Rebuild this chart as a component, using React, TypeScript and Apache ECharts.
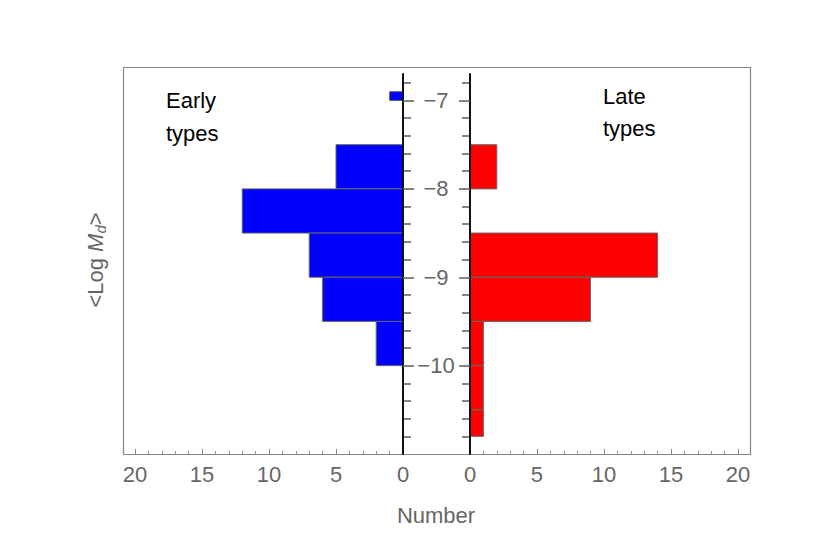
import React, { useEffect, useRef } from "react";
import * as echarts from "echarts";

// Early types histogram (left, blue): bin lower edge, upper edge, count
const earlyLow = [-7.0, -8.0, -8.5, -9.0, -9.5, -10.0];
const earlyHigh = [-6.9, -7.5, -8.0, -8.5, -9.0, -9.5];
const earlyCount = [1, 5, 12, 7, 6, 2];

// Late types histogram (right, red)
const lateLow = [-8.0, -9.0, -9.5, -10.0, -10.5, -10.8];
const lateHigh = [-7.5, -8.5, -9.0, -9.5, -10.0, -10.5];
const lateCount = [2, 14, 9, 1, 1, 1];

// Axis ticks
const yMajorTicks = [-10, -9, -8, -7];
const yMinorTicks = [
  -10.8, -10.6, -10.4, -10.2, -9.8, -9.6, -9.4, -9.2, -8.8, -8.6, -8.4, -8.2,
  -7.8, -7.6, -7.4, -7.2, -6.8,
];
const xMajorTicks = [0, 5, 10, 15, 20];
const xMinorTicks = [1, 2, 3, 4, 6, 7, 8, 9, 11, 12, 13, 14, 16, 17, 18, 19];

const Y_MIN = -11;
const Y_MAX = -6.7;
const X_MAX = 20.9;

const FONT = "'Liberation Sans', Arial, sans-serif";
const GREY = "#666666";
const FS = 22;

function fmt(v: number): string {
  return v < 0 ? "\u2212" + Math.abs(v) : String(v);
}

function makeRender(color: string) {
  return (params: any, api: any) => {
    const lo = api.value(0);
    const hi = api.value(1);
    const n = api.value(2);
    const p0 = api.coord([0, hi]);
    const p1 = api.coord([n, lo]);
    return {
      type: "rect",
      shape: {
        x: Math.min(p0[0], p1[0]),
        y: Math.min(p0[1], p1[1]),
        width: Math.abs(p1[0] - p0[0]),
        height: Math.abs(p1[1] - p0[1]),
      },
      style: { fill: color, stroke: GREY, lineWidth: 1 },
    };
  };
}

export default function App() {
  const ref = useRef<HTMLDivElement>(null);

  useEffect(() => {
    if (!ref.current) return;
    const chart = echarts.init(ref.current, undefined, { renderer: "svg" });

    const earlyData = earlyLow.map((lo, i) => [lo, earlyHigh[i], earlyCount[i]]);
    const lateData = lateLow.map((lo, i) => [lo, lateHigh[i], lateCount[i]]);

    const xBase = (gridIndex: number, inverse: boolean) => ({
      type: "value",
      gridIndex,
      min: 0,
      max: X_MAX,
      inverse,
      position: "bottom",
      axisLine: { show: false, onZero: false },
      splitLine: { show: false },
    });

    const xMajor = (gridIndex: number, inverse: boolean) => ({
      ...xBase(gridIndex, inverse),
      axisTick: {
        show: true,
        inside: true,
        length: 5,
        customValues: xMajorTicks,
        lineStyle: { color: "#888", width: 1 },
      },
      axisLabel: {
        show: true,
        customValues: xMajorTicks,
        fontSize: FS,
        fontFamily: FONT,
        color: GREY,
        margin: 9,
      },
    });

    const xMinor = (gridIndex: number, inverse: boolean) => ({
      ...xBase(gridIndex, inverse),
      axisTick: {
        show: true,
        inside: true,
        length: 3,
        customValues: xMinorTicks,
        lineStyle: { color: "#999", width: 1 },
      },
      axisLabel: { show: false },
    });

    const yMajor = (gridIndex: number, position: string, labels: boolean) => ({
      type: "value",
      gridIndex,
      min: Y_MIN,
      max: Y_MAX,
      position,
      axisLine: { show: true, onZero: false, lineStyle: { color: "#111", width: 2 } },
      axisTick: {
        show: true,
        inside: false,
        length: 11,
        customValues: yMajorTicks,
        lineStyle: { color: GREY, width: 1.6 },
      },
      axisLabel: {
        show: labels,
        customValues: yMajorTicks,
        formatter: fmt,
        fontSize: FS,
        fontFamily: FONT,
        color: GREY,
        align: "center",
        margin: 33,
      },
      splitLine: { show: false },
      z: 5,
    });

    const yMinor = (gridIndex: number, position: string) => ({
      type: "value",
      gridIndex,
      min: Y_MIN,
      max: Y_MAX,
      position,
      axisLine: { show: false, onZero: false },
      axisTick: {
        show: true,
        inside: false,
        length: 8,
        customValues: yMinorTicks,
        lineStyle: { color: GREY, width: 1.6 },
      },
      axisLabel: { show: false },
      splitLine: { show: false },
    });

    chart.setOption({
      animation: false,
      backgroundColor: "#ffffff",
      grid: [
        { left: 123, width: 280, top: 74, bottom: 89 },
        { left: 470, width: 280, top: 74, bottom: 89 },
      ],
      xAxis: [xMajor(0, true), xMinor(0, true), xMajor(1, false), xMinor(1, false)],
      yAxis: [
        yMajor(0, "right", true),
        yMinor(0, "right"),
        yMajor(1, "left", false),
        yMinor(1, "left"),
      ],
      series: [
        {
          type: "custom",
          name: "Early types",
          xAxisIndex: 0,
          yAxisIndex: 0,
          data: earlyData,
          encode: { x: 2, y: [0, 1] },
          renderItem: makeRender("#0000ff"),
          z: 2,
        },
        {
          type: "custom",
          name: "Late types",
          xAxisIndex: 2,
          yAxisIndex: 2,
          data: lateData,
          encode: { x: 2, y: [0, 1] },
          renderItem: makeRender("#ff0000"),
          z: 2,
        },
      ],
      graphic: [
        {
          type: "rect",
          shape: { x: 123.5, y: 67.5, width: 627, height: 387 },
          style: { fill: "none", stroke: "#888888", lineWidth: 1.2 },
          z: 1,
          silent: true,
        },
        {
          type: "text",
          x: 166,
          y: 116.5,
          style: {
            text: "Early\ntypes",
            font: `${FS}px ${FONT}`,
            fill: "#000",
            align: "left",
            verticalAlign: "middle",
            lineHeight: 33,
          },
          z: 10,
        },
        {
          type: "text",
          x: 603,
          y: 112.5,
          style: {
            text: "Late\ntypes",
            font: `${FS}px ${FONT}`,
            fill: "#000",
            align: "left",
            verticalAlign: "middle",
            lineHeight: 32,
          },
          z: 10,
        },
        {
          type: "text",
          x: 436,
          y: 515,
          style: {
            text: "Number",
            font: `${FS}px ${FONT}`,
            fill: GREY,
            align: "center",
            verticalAlign: "middle",
          },
          z: 10,
        },
        {
          type: "text",
          x: 95,
          y: 260,
          rotation: Math.PI / 2,
          style: {
            text: "<Log {i|M}{s|d}>",
            font: `${FS}px ${FONT}`,
            fontSize: FS,
            fontFamily: FONT,
            fill: GREY,
            align: "center",
            verticalAlign: "middle",
            rich: {
              i: { fontSize: FS, fontFamily: FONT, fontStyle: "italic", fill: GREY },
              s: {
                fontSize: 15,
                fontFamily: FONT,
                fontStyle: "italic",
                fill: GREY,
                verticalAlign: "bottom",
                padding: [10, 0, 0, 0],
              },
            },
          },
          z: 10,
        },
      ],
    });

    return () => chart.dispose();
  }, []);

  return (
    <div
      ref={ref}
      style={{ position: "fixed", left: 0, top: 0, width: 830, height: 543 }}
    />
  );
}
